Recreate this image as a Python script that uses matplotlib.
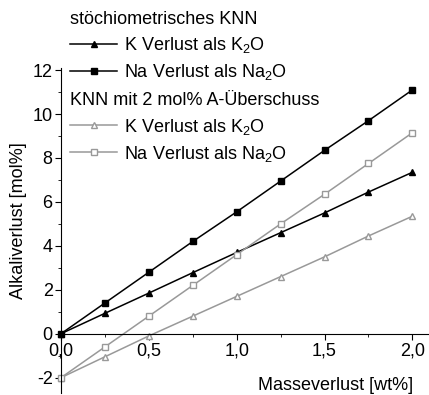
import matplotlib
matplotlib.use("Agg")
import matplotlib.pyplot as plt
from matplotlib.ticker import MultipleLocator, FuncFormatter

plt.rcParams['font.family'] = ['Liberation Sans', 'DejaVu Sans']
plt.rcParams['mathtext.fontset'] = 'custom'
plt.rcParams['mathtext.rm'] = 'Liberation Sans'

# data
masse = [0.0, 0.25, 0.5, 0.75, 1.0, 1.25, 1.5, 1.75, 2.0]
k_stoich = [0.0, 0.93, 1.85, 2.78, 3.7, 4.6, 5.5, 6.45, 7.35]
na_stoich = [0.0, 1.4, 2.8, 4.2, 5.55, 6.95, 8.35, 9.7, 11.1]
k_excess = [-2.0, -1.05, -0.1, 0.8, 1.7, 2.6, 3.5, 4.45, 5.35]
na_excess = [-2.0, -0.6, 0.8, 2.2, 3.6, 5.0, 6.35, 7.75, 9.15]

label_k = "K Verlust als K$_\\mathregular{2}$O"
label_na = "Na Verlust als Na$_\\mathregular{2}$O"

fig = plt.figure(figsize=(4.29, 3.95), dpi=100)
ax = fig.add_axes([0.1422, 0.005, 0.856, 0.823])

grey = '#999999'
l1, = ax.plot(masse, k_stoich, '-^', color='black', ms=5, lw=1.1, clip_on=False)
l2, = ax.plot(masse, na_stoich, '-s', color='black', ms=5, lw=1.1, clip_on=False)
l3, = ax.plot(masse, k_excess, '-^', color=grey, mfc='white', mec=grey, ms=5, lw=1.1, clip_on=False)
l4, = ax.plot(masse, na_excess, '-s', color=grey, mfc='white', mec=grey, ms=5, lw=1.1, clip_on=False)

ax.set_xlim(0, 2.09)
ax.set_ylim(-2.7, 12.1)
ax.spines['top'].set_visible(False)
ax.spines['right'].set_visible(False)
ax.spines['bottom'].set_position(('data', 0))

ax.xaxis.set_major_locator(MultipleLocator(0.5))
ax.xaxis.set_minor_locator(MultipleLocator(0.25))
ax.yaxis.set_major_locator(MultipleLocator(2))
ax.yaxis.set_minor_locator(MultipleLocator(1))
ax.xaxis.set_major_formatter(FuncFormatter(lambda v, p: f"{v:.1f}".replace('.', ',')))
ax.yaxis.set_major_formatter(FuncFormatter(lambda v, p: f"{v:.0f}"))
ax.tick_params(which='major', length=4, labelsize=13, pad=2)
ax.tick_params(which='minor', length=2.5)

ax.set_xlabel("Masseverlust [wt%]", fontsize=13)
ax.xaxis.set_label_coords(0.747, 0.05)
ax.set_ylabel("Alkaliverlust [mol%]", fontsize=13)
ax.yaxis.set_label_coords(-0.093, 0.529)

leg_kw = dict(loc='upper left', frameon=False, fontsize=13, title_fontsize=13,
              alignment='left', handlelength=2.6, handletextpad=0.4,
              labelspacing=0.4, borderpad=0, borderaxespad=0)
leg1 = ax.legend([l1, l2], [label_k, label_na], title="stöchiometrisches KNN",
                 bbox_to_anchor=(0.025, 1.175), **leg_kw)
ax.add_artist(leg1)
ax.legend([l3, l4], [label_k, label_na], title="KNN mit 2 mol% A-Überschuss",
          bbox_to_anchor=(0.025, 0.925), **leg_kw)

fig.savefig('out.png', dpi=100)
